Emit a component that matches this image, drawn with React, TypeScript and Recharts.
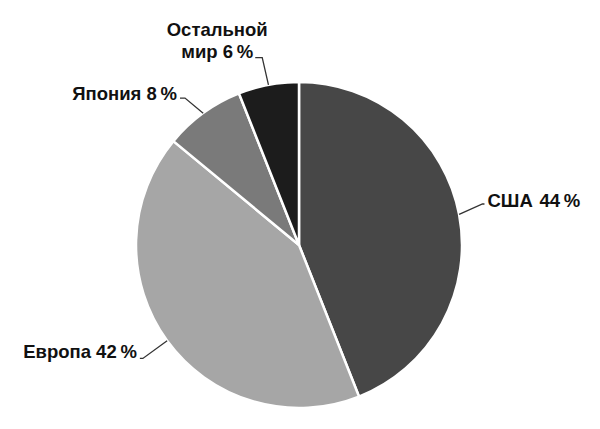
import React from "react";
import { PieChart, Pie, Cell } from "recharts";

const regions = ["США", "Европа", "Япония", "Остальной мир"];
const shares = [44, 42, 8, 6];
const labelLines = [["США\u200a 44\u2009%"], ["Европа 42\u2009%"], ["Япония 8\u2009%"], ["Остальной", "мир 6\u2009%"]];
const colors = ["#474747", "#a6a6a6", "#7a7a7a", "#1c1c1c"];

const data = regions.map((name, i) => ({ name, value: shares[i] }));

// label layout: elbow radius, angle shift, tail direction, baseline shift
const layout = [
  { r: 188, da: 1.8, side: 1, tail: 2, by: 3 },
  { r: 193, da: 0, side: -1, tail: 3, by: 0 },
  { r: 186, da: 1.8, side: -1, tail: 5, by: 2 },
  { r: 191, da: 0.3, side: -1, tail: 7, by: 0 },
];

const RAD = Math.PI / 180;

const renderLabel = (props: any) => {
  const { cx, cy, midAngle, outerRadius, index } = props;
  const L = layout[index];
  const a0 = -midAngle * RAD;
  const sx = cx + outerRadius * Math.cos(a0);
  const sy = cy + outerRadius * Math.sin(a0);
  const a1 = -(midAngle + L.da) * RAD;
  const ex = cx + L.r * Math.cos(a1);
  const ey = cy + L.r * Math.sin(a1);
  const tx = ex + L.side * L.tail;
  const lines = labelLines[index];
  const textStyle = {
    fontFamily: "'Liberation Sans', Arial, sans-serif",
    fontWeight: 700,
    fontSize: 18.5,
    fill: "#111",
  } as const;
  let text;
  if (lines.length === 1) {
    text = (
      <text
        x={tx + L.side * 3}
        y={ey + L.by}
        textAnchor={L.side > 0 ? "start" : "end"}
        style={textStyle}
      >
        {lines[0]}
      </text>
    );
  } else {
    const centerX = tx - 38;
    text = (
      <text x={centerX} y={ey + L.by} textAnchor="middle" style={textStyle}>
        <tspan x={centerX} dy={-22}>{lines[0]}</tspan>
        <tspan x={centerX} dy={22}>{lines[1]}</tspan>
      </text>
    );
  }
  return (
    <g key={`lbl-${index}`}>
      <polyline
        points={`${sx},${sy} ${ex},${ey} ${tx},${ey}`}
        fill="none"
        stroke="#333"
        strokeWidth={1.3}
      />
      {text}
    </g>
  );
};

export default function App() {
  return (
    <div style={{ position: "absolute", left: 0, top: 0, width: 600, height: 429, background: "#fff" }}>
      <PieChart width={600} height={429} margin={{ top: 0, right: 0, bottom: 0, left: 0 }}>
        <Pie
          data={data}
          dataKey="value"
          nameKey="name"
          cx={299}
          cy={245}
          outerRadius={163}
          startAngle={90}
          endAngle={-270}
          stroke="#fff"
          strokeWidth={2.5}
          label={renderLabel}
          labelLine={false}
          isAnimationActive={false}
        >
          {data.map((d, i) => (
            <Cell key={d.name} fill={colors[i]} />
          ))}
        </Pie>
      </PieChart>
    </div>
  );
}
